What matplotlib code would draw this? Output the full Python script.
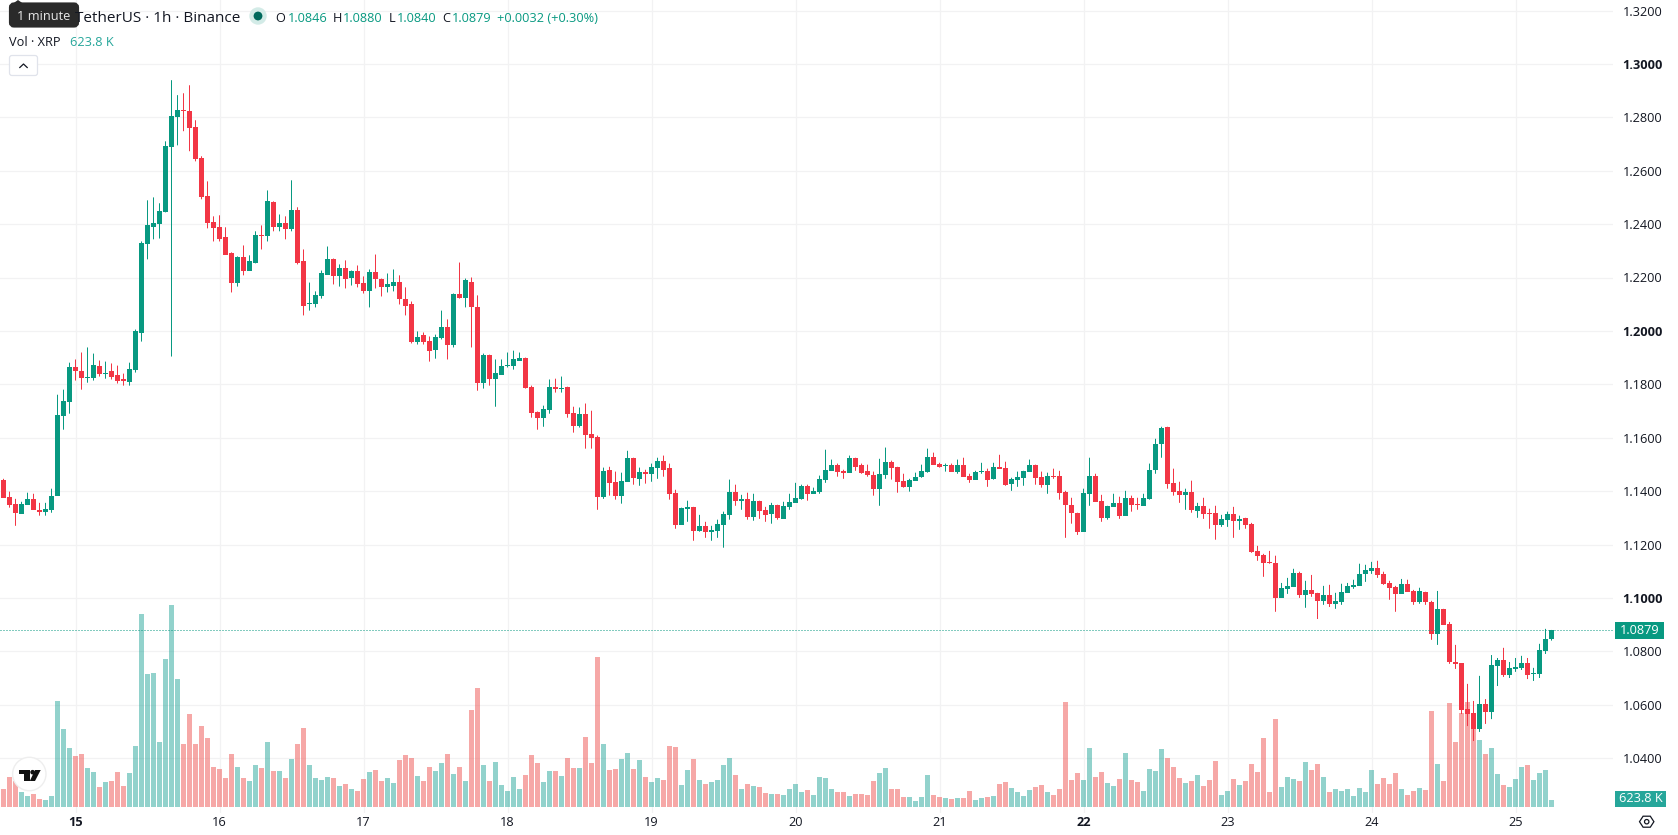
import matplotlib
matplotlib.use("Agg")
import matplotlib.pyplot as plt
from matplotlib.patches import Rectangle, FancyBboxPatch, Circle, Polygon
import numpy as np

plt.rcParams['font.family'] = ['Open Sans', 'DejaVu Sans']

# XRP/USDT 1h candles, oldest first
opens = [
    1.1443, 1.1379, 1.1353, 1.1315, 1.1349, 1.1371, 1.1330, 1.1323, 1.1330, 1.1383,
    1.1683, 1.1735, 1.1863, 1.1851, 1.1825, 1.1825, 1.1870, 1.1840, 1.1848, 1.1833,
    1.1818, 1.1810, 1.1855, 1.1994, 1.2324, 1.2391, 1.2399, 1.2444, 1.2688, 1.2800,
    1.2826, 1.2823, 1.2763, 1.2646, 1.2504, 1.2406, 1.2388, 1.2350, 1.2290, 1.2178,
    1.2275, 1.2226, 1.2253, 1.2361, 1.2354, 1.2481, 1.2388, 1.2403, 1.2380, 1.2451,
    1.2260, 1.2099, 1.2099, 1.2129, 1.2211, 1.2271, 1.2204, 1.2234, 1.2200, 1.2223,
    1.2178, 1.2151, 1.2219, 1.2196, 1.2163, 1.2170, 1.2185, 1.2121, 1.2099, 1.1960,
    1.1983, 1.1964, 1.1930, 1.1975, 1.2013, 1.1949, 1.2140, 1.2125, 1.2185, 1.2091,
    1.1806, 1.1908, 1.1821, 1.1836, 1.1870, 1.1870, 1.1889, 1.1900, 1.1791, 1.1698,
    1.1675, 1.1705, 1.1791, 1.1784, 1.1791, 1.1694, 1.1645, 1.1690, 1.1615, 1.1604,
    1.1379, 1.1480, 1.1435, 1.1383, 1.1435, 1.1525, 1.1446, 1.1473, 1.1465, 1.1488,
    1.1514, 1.1488, 1.1394, 1.1274, 1.1334, 1.1341, 1.1251, 1.1270, 1.1248, 1.1251,
    1.1274, 1.1311, 1.1398, 1.1364, 1.1371, 1.1304, 1.1364, 1.1330, 1.1315, 1.1349,
    1.1296, 1.1341, 1.1356, 1.1371, 1.1420, 1.1390, 1.1398, 1.1443, 1.1476, 1.1499,
    1.1476, 1.1469, 1.1525, 1.1499, 1.1476, 1.1461, 1.1409, 1.1461, 1.1510, 1.1491,
    1.1439, 1.1416, 1.1439, 1.1454, 1.1473, 1.1529, 1.1503, 1.1495, 1.1499, 1.1473,
    1.1499, 1.1458, 1.1443, 1.1473, 1.1476, 1.1446, 1.1491, 1.1488, 1.1428, 1.1443,
    1.1450, 1.1473, 1.1499, 1.1454, 1.1424, 1.1458, 1.1458, 1.1398, 1.1349, 1.1319,
    1.1248, 1.1390, 1.1458, 1.1364, 1.1300, 1.1341, 1.1356, 1.1308, 1.1375, 1.1353,
    1.1345, 1.1371, 1.1480, 1.1578, 1.1641, 1.1431, 1.1401, 1.1386, 1.1398, 1.1326,
    1.1345, 1.1319, 1.1319, 1.1274, 1.1293, 1.1315, 1.1289, 1.1300, 1.1278, 1.1176,
    1.1161, 1.1135, 1.1131, 1.1000, 1.1034, 1.1041, 1.1094, 1.1011, 1.1030, 1.1019,
    1.0989, 1.1011, 1.0978, 1.0985, 1.1019, 1.1041, 1.1045, 1.1090, 1.1101, 1.1113,
    1.1090, 1.1056, 1.1041, 1.1015, 1.1053, 1.1026, 1.0985, 1.1023, 1.0985, 1.0865,
    1.0959, 1.0903, 1.0760, 1.0756, 1.0584, 1.0569, 1.0509, 1.0603, 1.0573, 1.0745,
    1.0768, 1.0711, 1.0734, 1.0738, 1.0756, 1.0715, 1.0715, 1.0801, 1.0846,
]
highs = [
    1.1446, 1.1398, 1.1371, 1.1360, 1.1394, 1.1390, 1.1356, 1.1356, 1.1409, 1.1761,
    1.1780, 1.1881, 1.1893, 1.1919, 1.1938, 1.1915, 1.1889, 1.1885, 1.1878, 1.1870,
    1.1840, 1.1881, 1.2005, 1.2335, 1.2489, 1.2500, 1.2478, 1.2710, 1.2939, 1.2883,
    1.2890, 1.2920, 1.2789, 1.2654, 1.2560, 1.2429, 1.2433, 1.2388, 1.2294, 1.2279,
    1.2320, 1.2283, 1.2373, 1.2395, 1.2526, 1.2485, 1.2436, 1.2429, 1.2564, 1.2463,
    1.2305, 1.2181, 1.2148, 1.2226, 1.2316, 1.2271, 1.2249, 1.2264, 1.2226, 1.2245,
    1.2204, 1.2230, 1.2286, 1.2196, 1.2215, 1.2230, 1.2208, 1.2163, 1.2110, 1.1998,
    1.1994, 1.1979, 1.1986, 1.2076, 1.2043, 1.2140, 1.2256, 1.2196, 1.2200, 1.2133,
    1.1915, 1.1911, 1.1893, 1.1893, 1.1919, 1.1926, 1.1919, 1.1900, 1.1795, 1.1698,
    1.1720, 1.1818, 1.1821, 1.1829, 1.1791, 1.1716, 1.1713, 1.1728, 1.1701, 1.1608,
    1.1488, 1.1491, 1.1473, 1.1469, 1.1551, 1.1525, 1.1488, 1.1480, 1.1503, 1.1525,
    1.1533, 1.1503, 1.1405, 1.1338, 1.1364, 1.1341, 1.1311, 1.1285, 1.1270, 1.1293,
    1.1323, 1.1443, 1.1424, 1.1386, 1.1394, 1.1390, 1.1364, 1.1341, 1.1356, 1.1349,
    1.1360, 1.1390, 1.1431, 1.1424, 1.1424, 1.1413, 1.1458, 1.1555, 1.1518, 1.1503,
    1.1480, 1.1533, 1.1525, 1.1503, 1.1499, 1.1473, 1.1521, 1.1563, 1.1514, 1.1491,
    1.1465, 1.1446, 1.1469, 1.1499, 1.1559, 1.1544, 1.1506, 1.1503, 1.1503, 1.1518,
    1.1525, 1.1465, 1.1476, 1.1506, 1.1484, 1.1506, 1.1536, 1.1510, 1.1450, 1.1473,
    1.1476, 1.1518, 1.1499, 1.1473, 1.1469, 1.1484, 1.1476, 1.1401, 1.1375, 1.1319,
    1.1409, 1.1525, 1.1465, 1.1386, 1.1345, 1.1390, 1.1379, 1.1401, 1.1383, 1.1375,
    1.1390, 1.1503, 1.1596, 1.1641, 1.1641, 1.1484, 1.1435, 1.1409, 1.1439, 1.1356,
    1.1375, 1.1334, 1.1345, 1.1311, 1.1323, 1.1341, 1.1308, 1.1300, 1.1281, 1.1195,
    1.1165, 1.1176, 1.1158, 1.1056, 1.1075, 1.1109, 1.1098, 1.1064, 1.1086, 1.1019,
    1.1045, 1.1049, 1.1019, 1.1053, 1.1056, 1.1068, 1.1128, 1.1124, 1.1135, 1.1139,
    1.1098, 1.1064, 1.1045, 1.1071, 1.1068, 1.1030, 1.1038, 1.1023, 1.0989, 1.1026,
    1.0959, 1.0910, 1.0824, 1.0756, 1.0678, 1.0614, 1.0708, 1.0621, 1.0786, 1.0775,
    1.0813, 1.0760, 1.0775, 1.0783, 1.0775, 1.0738, 1.0828, 1.0884, 1.0880,
]
lows = [
    1.1375, 1.1338, 1.1270, 1.1315, 1.1349, 1.1330, 1.1308, 1.1308, 1.1319, 1.1383,
    1.1630, 1.1690, 1.1814, 1.1780, 1.1806, 1.1814, 1.1829, 1.1821, 1.1818, 1.1803,
    1.1795, 1.1795, 1.1844, 1.1960, 1.2268, 1.2343, 1.2346, 1.2444, 1.1904, 1.2695,
    1.2748, 1.2673, 1.2635, 1.2493, 1.2384, 1.2335, 1.2335, 1.2286, 1.2144, 1.2166,
    1.2208, 1.2226, 1.2253, 1.2305, 1.2335, 1.2373, 1.2373, 1.2343, 1.2373, 1.2249,
    1.2058, 1.2076, 1.2088, 1.2121, 1.2211, 1.2174, 1.2166, 1.2159, 1.2170, 1.2163,
    1.2140, 1.2088, 1.2159, 1.2129, 1.2144, 1.2148, 1.2099, 1.2058, 1.1953, 1.1949,
    1.1949, 1.1885, 1.1896, 1.1968, 1.1893, 1.1938, 1.2121, 1.2088, 1.1938, 1.1776,
    1.1784, 1.1795, 1.1716, 1.1836, 1.1863, 1.1855, 1.1889, 1.1784, 1.1675, 1.1630,
    1.1641, 1.1690, 1.1769, 1.1769, 1.1675, 1.1619, 1.1638, 1.1559, 1.1559, 1.1330,
    1.1371, 1.1383, 1.1368, 1.1353, 1.1435, 1.1424, 1.1420, 1.1428, 1.1435, 1.1446,
    1.1454, 1.1368, 1.1259, 1.1274, 1.1285, 1.1214, 1.1248, 1.1225, 1.1214, 1.1225,
    1.1188, 1.1293, 1.1345, 1.1330, 1.1293, 1.1289, 1.1296, 1.1285, 1.1278, 1.1293,
    1.1296, 1.1330, 1.1356, 1.1368, 1.1364, 1.1390, 1.1390, 1.1431, 1.1476, 1.1454,
    1.1446, 1.1469, 1.1476, 1.1465, 1.1454, 1.1383, 1.1345, 1.1446, 1.1443, 1.1394,
    1.1413, 1.1398, 1.1439, 1.1450, 1.1469, 1.1499, 1.1488, 1.1473, 1.1473, 1.1465,
    1.1454, 1.1431, 1.1443, 1.1465, 1.1416, 1.1443, 1.1484, 1.1420, 1.1401, 1.1416,
    1.1420, 1.1473, 1.1424, 1.1413, 1.1390, 1.1446, 1.1368, 1.1225, 1.1278, 1.1236,
    1.1248, 1.1345, 1.1360, 1.1285, 1.1293, 1.1341, 1.1296, 1.1308, 1.1323, 1.1330,
    1.1345, 1.1368, 1.1465, 1.1525, 1.1409, 1.1383, 1.1356, 1.1330, 1.1319, 1.1300,
    1.1296, 1.1259, 1.1218, 1.1266, 1.1266, 1.1225, 1.1255, 1.1259, 1.1169, 1.1139,
    1.1079, 1.1128, 1.0948, 1.1000, 1.1015, 1.1041, 1.1000, 1.0963, 1.1004, 1.0921,
    1.0974, 1.0966, 1.0959, 1.0974, 1.1019, 1.1034, 1.1045, 1.1060, 1.1090, 1.1075,
    1.1049, 1.0993, 1.0948, 1.1015, 1.1023, 1.0974, 1.0978, 1.0974, 1.0843, 1.0824,
    1.0899, 1.0753, 1.0734, 1.0565, 1.0520, 1.0464, 1.0498, 1.0528, 1.0546, 1.0670,
    1.0704, 1.0700, 1.0723, 1.0730, 1.0696, 1.0689, 1.0700, 1.0790, 1.0840,
]
closes = [
    1.1375, 1.1349, 1.1319, 1.1353, 1.1371, 1.1330, 1.1323, 1.1334, 1.1383, 1.1686,
    1.1739, 1.1863, 1.1848, 1.1825, 1.1829, 1.1874, 1.1840, 1.1844, 1.1829, 1.1814,
    1.1814, 1.1859, 1.1998, 1.2328, 1.2395, 1.2403, 1.2448, 1.2691, 1.2804, 1.2826,
    1.2823, 1.2759, 1.2643, 1.2500, 1.2403, 1.2384, 1.2346, 1.2286, 1.2178, 1.2275,
    1.2223, 1.2260, 1.2361, 1.2354, 1.2485, 1.2388, 1.2403, 1.2380, 1.2451, 1.2256,
    1.2095, 1.2103, 1.2133, 1.2215, 1.2271, 1.2204, 1.2234, 1.2196, 1.2223, 1.2174,
    1.2151, 1.2219, 1.2193, 1.2163, 1.2174, 1.2185, 1.2118, 1.2095, 1.1960, 1.1979,
    1.1960, 1.1926, 1.1979, 1.2013, 1.1949, 1.2140, 1.2125, 1.2189, 1.2088, 1.1806,
    1.1908, 1.1821, 1.1844, 1.1870, 1.1874, 1.1893, 1.1900, 1.1788, 1.1694, 1.1675,
    1.1709, 1.1791, 1.1784, 1.1788, 1.1690, 1.1645, 1.1690, 1.1611, 1.1600, 1.1379,
    1.1476, 1.1431, 1.1383, 1.1439, 1.1525, 1.1450, 1.1473, 1.1465, 1.1491, 1.1514,
    1.1480, 1.1390, 1.1274, 1.1338, 1.1341, 1.1251, 1.1270, 1.1248, 1.1255, 1.1278,
    1.1315, 1.1398, 1.1364, 1.1371, 1.1304, 1.1364, 1.1326, 1.1311, 1.1349, 1.1300,
    1.1345, 1.1360, 1.1375, 1.1420, 1.1390, 1.1401, 1.1446, 1.1480, 1.1499, 1.1473,
    1.1469, 1.1525, 1.1491, 1.1469, 1.1461, 1.1409, 1.1465, 1.1510, 1.1488, 1.1435,
    1.1416, 1.1443, 1.1454, 1.1476, 1.1529, 1.1499, 1.1491, 1.1499, 1.1473, 1.1499,
    1.1454, 1.1443, 1.1473, 1.1476, 1.1443, 1.1491, 1.1484, 1.1424, 1.1446, 1.1454,
    1.1476, 1.1499, 1.1450, 1.1424, 1.1458, 1.1454, 1.1394, 1.1349, 1.1319, 1.1248,
    1.1394, 1.1458, 1.1360, 1.1300, 1.1345, 1.1356, 1.1308, 1.1375, 1.1349, 1.1349,
    1.1375, 1.1480, 1.1578, 1.1638, 1.1428, 1.1398, 1.1386, 1.1398, 1.1330, 1.1345,
    1.1315, 1.1315, 1.1274, 1.1296, 1.1315, 1.1289, 1.1296, 1.1274, 1.1173, 1.1158,
    1.1131, 1.1131, 1.1000, 1.1038, 1.1045, 1.1094, 1.1011, 1.1030, 1.1015, 1.0989,
    1.1011, 1.0978, 1.0989, 1.1023, 1.1045, 1.1049, 1.1090, 1.1105, 1.1113, 1.1086,
    1.1053, 1.1038, 1.1015, 1.1053, 1.1023, 1.0985, 1.1026, 1.0985, 1.0865, 1.0959,
    1.0899, 1.0760, 1.0753, 1.0580, 1.0565, 1.0509, 1.0603, 1.0573, 1.0749, 1.0768,
    1.0711, 1.0738, 1.0741, 1.0756, 1.0711, 1.0719, 1.0805, 1.0846, 1.0879,
]
# volume in thousands of XRP
volumes = [
    1620, 2700, 2340, 1350, 990, 1170, 720, 630, 990, 9540,
    7020, 5310, 4590, 4770, 3510, 3150, 1800, 2250, 2340, 3150,
    1890, 3060, 5490, 17370, 11970, 12060, 5850, 13320, 18180, 11520,
    5670, 8370, 5670, 7290, 6210, 3600, 3420, 2610, 4770, 3600,
    2610, 2340, 3780, 3510, 5850, 3240, 3240, 2610, 4320, 5670,
    7110, 3780, 2610, 2430, 2700, 2610, 1890, 2070, 1620, 1440,
    2520, 3150, 3330, 2340, 2610, 2160, 4230, 4680, 4410, 2790,
    2340, 3600, 3240, 3960, 4770, 2970, 3600, 2340, 8730, 10710,
    3780, 2340, 4050, 1980, 1440, 2700, 1620, 2880, 4680, 3960,
    2250, 3240, 3240, 2790, 4410, 3510, 3510, 6300, 3960, 13500,
    5670, 3330, 3420, 4320, 4860, 3420, 4230, 2700, 2250, 2610,
    2430, 5490, 5400, 1980, 3330, 4320, 2430, 2070, 2250, 2430,
    3780, 4410, 2880, 1620, 2070, 1890, 1800, 1260, 1170, 1170,
    1080, 1620, 2070, 1350, 1530, 1080, 2700, 2610, 1620, 1350,
    1350, 990, 1170, 1170, 1080, 2340, 3060, 3510, 1620, 1620,
    900, 900, 540, 900, 2880, 1080, 900, 810, 720, 810,
    810, 1440, 630, 810, 900, 990, 2070, 2250, 1710, 1350,
    990, 1530, 1800, 1980, 1350, 1080, 1620, 9450, 2430, 3060,
    2430, 5310, 2700, 3150, 2160, 1890, 2520, 4860, 2430, 2250,
    1440, 3420, 3240, 5220, 4410, 3600, 2610, 2160, 2340, 2880,
    1890, 2430, 4140, 1080, 1440, 2520, 1980, 2340, 3870, 3150,
    6210, 1350, 7920, 1800, 2700, 2520, 2340, 4050, 3330, 3870,
    2700, 1350, 1620, 1440, 1620, 990, 1710, 1350, 3330, 2070,
    2610, 2070, 3060, 1620, 1080, 1440, 1710, 1530, 8640, 3870,
    2340, 9360, 5850, 8460, 9450, 7020, 6030, 4770, 5310, 2970,
    1980, 1800, 2520, 3600, 3780, 2430, 3060, 3330, 623.8,
]
price_ticks = [1.04, 1.06, 1.08, 1.10, 1.12, 1.14, 1.16, 1.18, 1.20, 1.22, 1.24, 1.26, 1.28, 1.30, 1.32]
bold_prices = [1.10, 1.20, 1.30]
day_labels = ['15', '16', '17', '18', '19', '20', '21', '22', '23', '24', '25']
bold_days = ['15', '22']
first_day_candle = 12
candles_per_day = 24

GREEN = '#089981'
RED = '#F23645'
VOL_GREEN = '#26a69a'
VOL_RED = '#ef5350'
GRID = '#f2f2f3'
TEXT = '#131722'

W, H = 1678, 835
PANE_W, PANE_H = 1613, 813

o, h, l, c = map(np.array, (opens, highs, lows, closes))
x = np.arange(len(o))
up = c >= o
candle_colors = [GREEN if u else RED for u in up]
vol_colors = [VOL_GREEN if u else VOL_RED for u in up]

fig = plt.figure(figsize=(W / 100, H / 100), dpi=100, facecolor='white')
rect = [0, 1 - PANE_H / H, PANE_W / W, PANE_H / H]
xlim = (-3.5 / 6, (PANE_W - 3.5) / 6)
ylim = (1.08 + (651.3 - PANE_H) / 2670, 1.08 + 651.3 / 2670)

# bottom layer holds the grid and the scales
ax = fig.add_axes(rect, zorder=0)
ax.set_xlim(xlim)
ax.set_ylim(ylim)
day_ticks = [first_day_candle + candles_per_day * i for i in range(len(day_labels))]
ax.set_xticks(day_ticks, day_labels)
ax.set_yticks(price_ticks, [f'{p:.4f}' for p in price_ticks])
ax.yaxis.tick_right()
ax.grid(True, color=GRID, linewidth=0.9)
ax.set_axisbelow(True)
ax.tick_params(axis='both', length=0, labelsize=9.2, labelcolor=TEXT)
ax.tick_params(axis='y', pad=7)
ax.tick_params(axis='x', pad=2.5)
for lab in ax.get_xticklabels():
    if lab.get_text() in bold_days:
        lab.set_fontweight('bold')
for lab, p in zip(ax.get_yticklabels(), price_ticks):
    if p in bold_prices:
        lab.set_fontweight('bold')
for s in ax.spines.values():
    s.set_visible(False)

# volume above the grid, 90K per pixel, baseline 6px above the pane bottom
ax_vol = fig.add_axes(rect, zorder=1)
ax_vol.bar(x, volumes, width=5 / 6, color=vol_colors, alpha=0.5, linewidth=0)
ax_vol.set_xlim(xlim)
ax_vol.set_ylim(-540, 807 * 90)
ax_vol.axis('off')

# candles on top
ax_c = fig.add_axes(rect, zorder=2)
ax_c.set_xlim(xlim)
ax_c.set_ylim(ylim)
ax_c.axis('off')
wicks = ax_c.vlines(x, l, h, colors=candle_colors, linewidth=0.72, zorder=3)
wicks.set_snap(False)
ax_c.bar(x, np.abs(c - o), bottom=np.minimum(o, c), width=5 / 6, color=candle_colors, linewidth=0, zorder=4)
ax_c.axhline(closes[-1], color=GREEN, linewidth=0.72, linestyle=(0, (1, 2)), zorder=5)

# last price and last volume tags on the scale
tag_x = 1 + 2 / PANE_W
ytrans = ax_c.get_yaxis_transform()
tag_h = 17 / 2670
ax_c.add_patch(Rectangle((tag_x, closes[-1] - tag_h / 2), 49 / PANE_W, tag_h, transform=ytrans,
                         facecolor=GREEN, edgecolor='none', clip_on=False))
ax_c.text(tag_x + 24.5 / PANE_W, closes[-1], f'{closes[-1]:.4f}', transform=ytrans, color='white',
          fontsize=9.2, ha='center', va='center', clip_on=False, zorder=6)
vtrans = ax_vol.get_yaxis_transform()
ax_vol.add_patch(Rectangle((tag_x, 0), 51 / PANE_W, 16 * 90, transform=vtrans,
                           facecolor=VOL_GREEN, edgecolor='none', clip_on=False))
ax_vol.text(tag_x + 25.5 / PANE_W, 8 * 90, f'{volumes[-1]:.1f} K', transform=vtrans, color='white',
            fontsize=9.2, ha='center', va='center', clip_on=False, zorder=6)

# header, tooltip, logo and buttons are laid out in pixels
ov = fig.add_axes([0, 0, 1, 1], zorder=5)
ov.set_xlim(0, W)
ov.set_ylim(H, 0)
ov.axis('off')

ov.text(240, 16.7, 'TetherUS · 1h · Binance', fontsize=11, color=TEXT, ha='right', va='center_baseline')
ov.add_patch(Circle((258, 16), 8.7, facecolor='#d3ebe7', edgecolor='none'))
ov.add_patch(Circle((258, 16), 4.4, facecolor='#00695c', edgecolor='none'))

header_parts = [
    (275.5, 'O', TEXT), (288, f'{opens[-1]:.4f}', GREEN),
    (333, 'H', TEXT), (343, f'{highs[-1]:.4f}', GREEN),
    (389, 'L', TEXT), (396.5, f'{lows[-1]:.4f}', GREEN),
    (442, 'C', TEXT), (452, f'{closes[-1]:.4f}', GREEN),
    (497, '+0.0032 (+0.30%)', GREEN),
]
for px, s, col in header_parts:
    ov.text(px, 16.5, s, fontsize=9.2, color=col, ha='left', va='center_baseline')

ov.text(9, 40.5, 'Vol · XRP', fontsize=9.2, color=TEXT, ha='left', va='center_baseline')
ov.text(70, 40.5, f'{volumes[-1]:.1f} K', fontsize=9.2, color=VOL_GREEN, ha='left', va='center_baseline')

# tooltip over the start of the symbol name
ov.add_patch(FancyBboxPatch((11, 4.5), 66, 21, boxstyle='round,pad=0,rounding_size=3',
                            facecolor='#2a2a2a', edgecolor='#2a2a2a', linewidth=3))
ov.add_patch(Polygon([(13, 3.5), (18, 0), (23, 3.5)], facecolor='#2a2a2a', edgecolor='none'))
ov.text(43.5, 15, '1 minute', fontsize=9.2, color='#e8e8e8', ha='center', va='center_baseline')

ov.add_patch(FancyBboxPatch((9.5, 55.5), 28, 20, boxstyle='round,pad=0,rounding_size=2.5',
                            facecolor='white', edgecolor='#e0e3eb', linewidth=0.9))
ov.plot([19.8, 23.5, 27.2], [67.5, 64, 67.5], color=TEXT, linewidth=0.9)

ov.add_patch(Circle((29.3, 774), 16.7, facecolor='white', edgecolor='#eeeeee', linewidth=1))
ov.add_patch(Polygon([(19, 770), (30, 770), (30, 781), (24, 781), (24, 774.3), (19, 774.3)],
                     facecolor='#111111', edgecolor='none'))
ov.add_patch(Circle((32.6, 772.2), 2.3, facecolor='#111111', edgecolor='none'))
ov.add_patch(Polygon([(35, 770), (40.7, 770), (35, 781), (29.8, 781)], facecolor='#111111', edgecolor='none'))

# settings button in the bottom right corner
hex_x, hex_y = 1646.7, 821.7
ov.add_patch(Polygon([(hex_x - 7.2, hex_y), (hex_x - 3.6, hex_y - 5.5), (hex_x + 3.6, hex_y - 5.5),
                      (hex_x + 7.2, hex_y), (hex_x + 3.6, hex_y + 5.5), (hex_x - 3.6, hex_y + 5.5)],
                     facecolor='white', edgecolor=TEXT, linewidth=0.9))
ov.add_patch(Circle((hex_x, hex_y), 2.2, facecolor='white', edgecolor=TEXT, linewidth=0.9))

fig.savefig('out.png', dpi=100, facecolor='white')
